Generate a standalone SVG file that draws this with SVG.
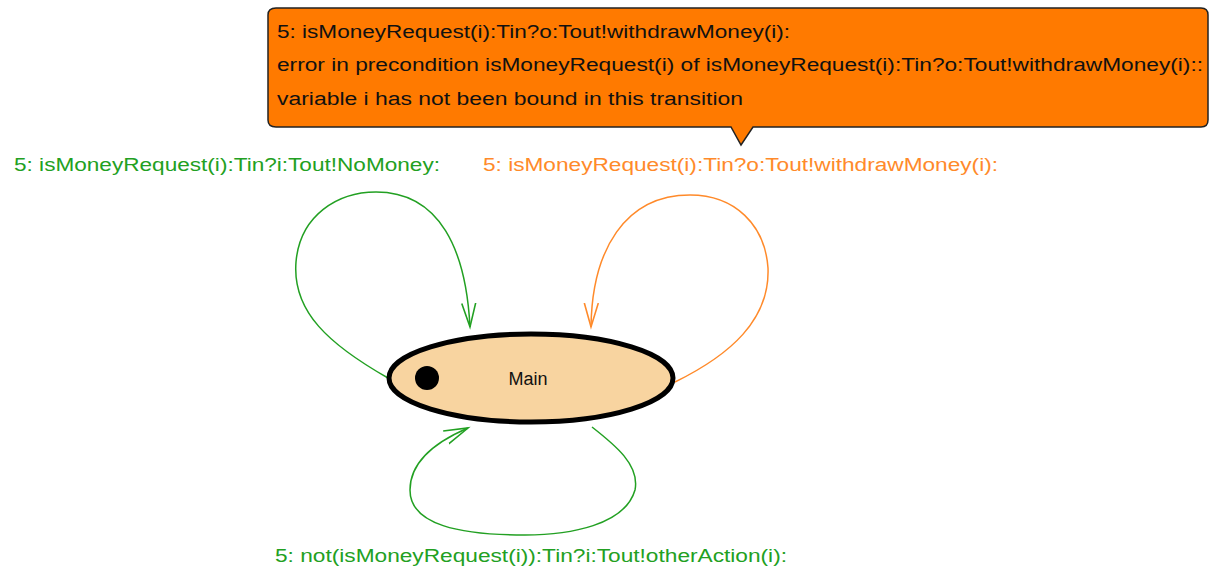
<svg xmlns="http://www.w3.org/2000/svg" width="1209" height="570" viewBox="0 0 1209 570">
  <style>
    text { font-family: "Liberation Sans", Arial, sans-serif; font-size: 18px; }
    .green { fill: #22a022; }
    .orange { fill: #ff8a2a; }
    .dark { fill: #111111; }
    .edge { fill: none; stroke-width: 1.5; }
  </style>
  <defs>
    <marker id="arrowGreen" markerUnits="userSpaceOnUse" markerWidth="30" markerHeight="30" refX="24" refY="10" orient="auto" viewBox="0 0 30 20">
      <path d="M 0,3 L 24,10 L 0,17" fill="none" stroke="#22a022" stroke-width="1.6"/>
    </marker>
    <marker id="arrowOrange" markerUnits="userSpaceOnUse" markerWidth="30" markerHeight="30" refX="24" refY="10" orient="auto" viewBox="0 0 30 20">
      <path d="M 0,3 L 24,10 L 0,17" fill="none" stroke="#ff8a2a" stroke-width="1.6"/>
    </marker>
  </defs>
  <rect width="1209" height="570" fill="#ffffff"/>

  <!-- transitions -->
  <g id="connectors">
    <path class="edge" stroke="#22a022" d="M 388,378 C 330,345 292,312 296,262 C 300,215 338,192 376,192 C 440,192 466,250 470,327" marker-end="url(#arrowGreen)"/>
    <path class="edge" stroke="#ff8a2a" d="M 675,382 C 730,355 770,320 768,268 C 765,225 735,195 690,195 C 625,195 592,250 591,327" marker-end="url(#arrowOrange)"/>
    <path class="edge" stroke="#22a022" d="M 592,427 C 615,445 640,465 635,490 C 625,525 570,535 525,535 C 460,535 410,525 410,490 C 410,460 440,440 468,428" marker-end="url(#arrowGreen)"/>
  </g>

  <!-- state -->
  <g id="state-main">
    <ellipse cx="531" cy="378" rx="142" ry="44" fill="#f8d4a0" stroke="#000000" stroke-width="5"/>
    <circle cx="427" cy="378" r="12" fill="#000000"/>
    <text x="528" y="385" text-anchor="middle" class="dark">Main</text>
  </g>

  <!-- transition labels -->
  <g id="label-nomoney">
    <text x="14" y="171" class="green" textLength="426" lengthAdjust="spacingAndGlyphs">5: isMoneyRequest(i):Tin?i:Tout!NoMoney:</text>
  </g>
  <g id="label-withdraw">
    <text x="483" y="171" class="orange" textLength="515" lengthAdjust="spacingAndGlyphs">5: isMoneyRequest(i):Tin?o:Tout!withdrawMoney(i):</text>
  </g>
  <g id="label-other">
    <text x="275" y="562" class="green" textLength="512" lengthAdjust="spacingAndGlyphs">5: not(isMoneyRequest(i)):Tin?i:Tout!otherAction(i):</text>
  </g>

  <!-- error tooltip -->
  <g id="error-callout">
    <path d="M 276,8 L 1201,8 Q 1208,8 1208,15 L 1208,120 Q 1208,127 1201,127 L 753,127 L 741,145 L 731,127 L 276,127 Q 268,127 268,120 L 268,15 Q 268,8 276,8 Z" fill="#ff7a00" stroke="#222222" stroke-width="1.5"/>
    <text x="277" y="38" class="dark" textLength="513" lengthAdjust="spacingAndGlyphs">5: isMoneyRequest(i):Tin?o:Tout!withdrawMoney(i):</text>
    <text x="277" y="71" class="dark" textLength="926" lengthAdjust="spacingAndGlyphs">error in precondition isMoneyRequest(i) of isMoneyRequest(i):Tin?o:Tout!withdrawMoney(i)::</text>
    <text x="277" y="105" class="dark" textLength="466" lengthAdjust="spacingAndGlyphs">variable i has not been bound in this transition</text>
  </g>
</svg>
